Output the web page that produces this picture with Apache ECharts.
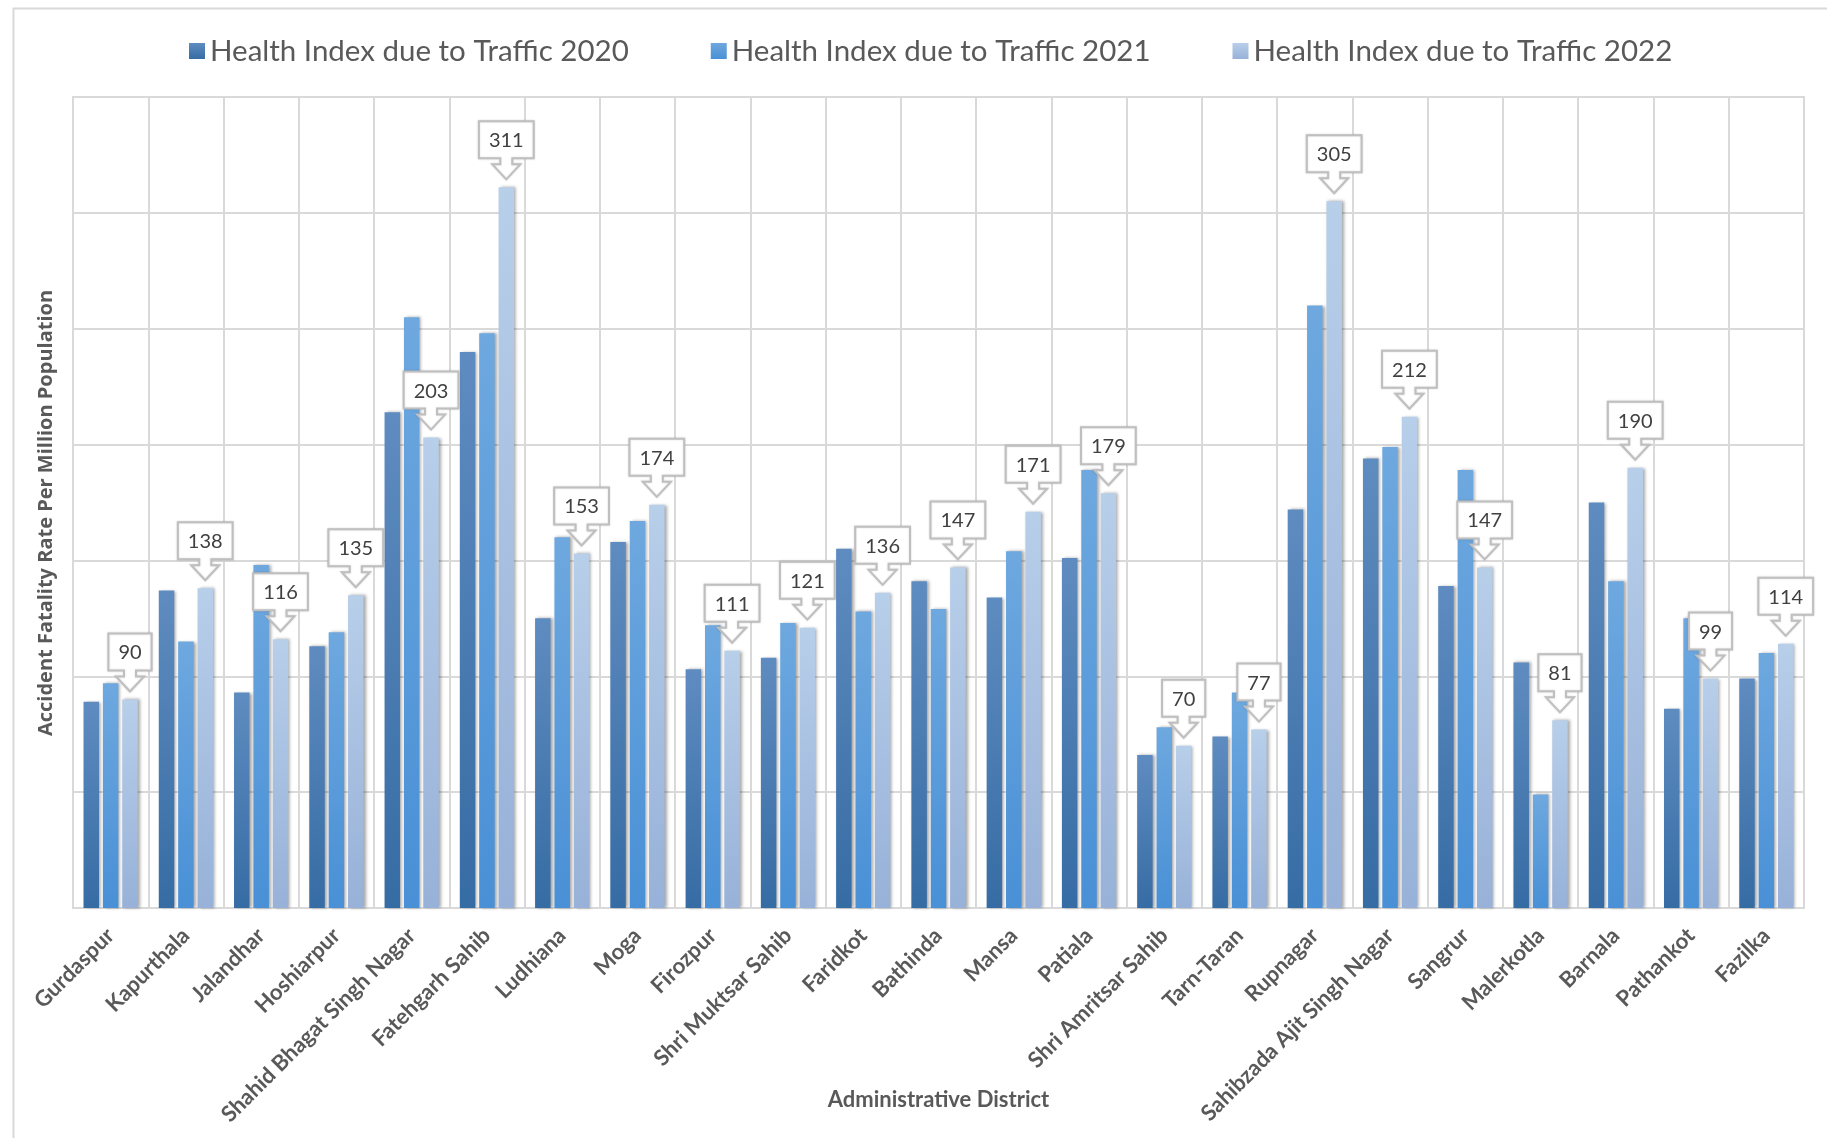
<!DOCTYPE html>
<html>
<head>
<meta charset="utf-8">
<script src="https://cdn.jsdelivr.net/npm/echarts@6/dist/echarts.min.js"></script>
<style>
html,body{margin:0;padding:0;background:#fff;}
#chart{width:1827px;height:1138px;}
</style>
</head>
<body>
<div id="chart"></div>
<script>
const categories = ['Gurdaspur','Kapurthala','Jalandhar','Hoshiarpur','Shahid Bhagat Singh Nagar','Fatehgarh Sahib','Ludhiana','Moga','Firozpur','Shri Muktsar Sahib','Faridkot','Bathinda','Mansa','Patiala','Shri Amritsar Sahib','Tarn-Taran','Rupnagar','Sahibzada Ajit Singh Nagar','Sangrur','Malerkotla','Barnala','Pathankot','Fazilka'];
const seriesNames = ['Health Index due to Traffic 2020','Health Index due to Traffic 2021','Health Index due to Traffic 2022'];
const values2020 = [89, 137, 93, 113, 214, 240, 125, 158, 103, 108, 155, 141, 134, 151, 66, 74, 172, 194, 139, 106, 175, 86, 99];
const values2021 = [97, 115, 148, 119, 255, 248, 160, 167, 122, 123, 128, 129, 154, 189, 78, 93, 260, 199, 189, 49, 141, 125, 110];
const values2022 = [90, 138, 116, 135, 203, 311, 153, 174, 111, 121, 136, 147, 171, 179, 70, 77, 305, 212, 147, 81, 190, 99, 114];
const yAxisName = 'Accident Fatality Rate Per Million Population';
const xAxisName = 'Administrative District';

const BAR_W = 15.5, BAR_GAP = 0.25;
const grad = (t, b) => new echarts.graphic.LinearGradient(0, 0, 0, 1, [{offset: 0, color: t}, {offset: 1, color: b}]);
const colors = [grad('#5f8cc0', '#366ca4'), grad('#6ea8df', '#4990d6'), grad('#b8cfea', '#97b1d8')];

const mctx = document.createElement('canvas').getContext('2d');
const CALLOUT_FONT = '20px Lato';
mctx.font = CALLOUT_FONT;

const chart = echarts.init(document.getElementById('chart'), null, {renderer: 'canvas'});

function barSeries(name, data, color) {
  return {
    name: name, type: 'bar', data: data,
    barWidth: BAR_W, barGap: (BAR_GAP * 100) + '%',
    itemStyle: {color: color, shadowColor: 'rgba(0,0,0,0.35)', shadowBlur: 3, shadowOffsetX: 2, shadowOffsetY: 0},
    emphasis: {disabled: true}
  };
}

const option = {
  backgroundColor: '#fff',
  animation: false,
  graphic: [{type: 'rect', left: 11, top: 6, shape: {width: 1830, height: 1200}, style: {fill: 'none', stroke: '#d9d9d9', lineWidth: 2}, silent: true, z: -1}],
  legend: {
    data: seriesNames,
    top: 31, left: 184,
    itemWidth: 16, itemHeight: 16, itemGap: 82,
    textStyle: {fontFamily: 'Lato', fontSize: 29.5, color: '#595959'},
    icon: 'rect'
  },
  grid: {left: 73, right: 23, top: 97, bottom: 230, show: true, borderColor: '#d9d9d9', borderWidth: 2, containLabel: false, outerBoundsMode: 'none'},
  xAxis: {
    type: 'category', data: categories,
    axisLine: {show: true, lineStyle: {color: '#d9d9d9', width: 2}},
    axisTick: {show: false},
    splitLine: {show: true, lineStyle: {color: '#d9d9d9', width: 2}},
    axisLabel: {interval: 0, rotate: 45, margin: 24, fontFamily: 'Lato', fontWeight: 'bold', fontSize: 22, color: '#595959'},
    name: xAxisName, nameLocation: 'middle', nameGap: 181, nameMoveOverlap: false,
    nameTextStyle: {fontFamily: 'Lato', fontWeight: 'bold', fontSize: 22, color: '#595959'}
  },
  yAxis: {
    type: 'value', min: 0, max: 350, interval: 50,
    axisLabel: {show: false}, axisTick: {show: false}, axisLine: {show: false},
    splitLine: {show: true, lineStyle: {color: '#d9d9d9', width: 2}},
    name: yAxisName, nameLocation: 'middle', nameGap: 17, nameRotate: 90, nameMoveOverlap: false,
    nameTextStyle: {fontFamily: 'Open Sans', fontWeight: 'bold', fontSize: 20, color: '#595959', padding: [0, 21, 0, 0]}
  },
  series: [
    barSeries(seriesNames[0], values2020, colors[0]),
    barSeries(seriesNames[1], values2021, colors[1]),
    barSeries(seriesNames[2], values2022, colors[2]),
    {
      type: 'custom', name: 'callouts', z: 10,
      data: values2022.map((v, i) => [i, v]),
      encode: {x: 0, y: 1},
      renderItem: function (params, api) {
        const val = api.value(1);
        const p = api.coord([api.value(0), val]);
        const x = p[0] + BAR_W * (1 + BAR_GAP);
        const tip = p[1] - 8;
        const txt = String(val);
        const tw = mctx.measureText(txt).width;
        const bw = tw + 20, bh = 37;
        const bb = tip - 21, bt = bb - bh;
        const pts = [
          [x - bw / 2, bt], [x + bw / 2, bt], [x + bw / 2, bb], [x + 6, bb], [x + 6, tip - 15], [x + 14, tip - 15],
          [x, tip], [x - 14, tip - 15], [x - 6, tip - 15], [x - 6, bb], [x - bw / 2, bb]
        ];
        return {
          type: 'group',
          children: [
            {type: 'polygon', shape: {points: pts}, style: {fill: '#fff', stroke: '#bfbfbf', lineWidth: 2, shadowColor: 'rgba(0,0,0,0.15)', shadowBlur: 2}},
            {type: 'text', style: {text: txt, x: x, y: bt + bh / 2 + 1, align: 'center', verticalAlign: 'middle', font: CALLOUT_FONT, fill: '#404040'}}
          ]
        };
      }
    }
  ]
};
chart.setOption(option);
</script>
</body>
</html>
